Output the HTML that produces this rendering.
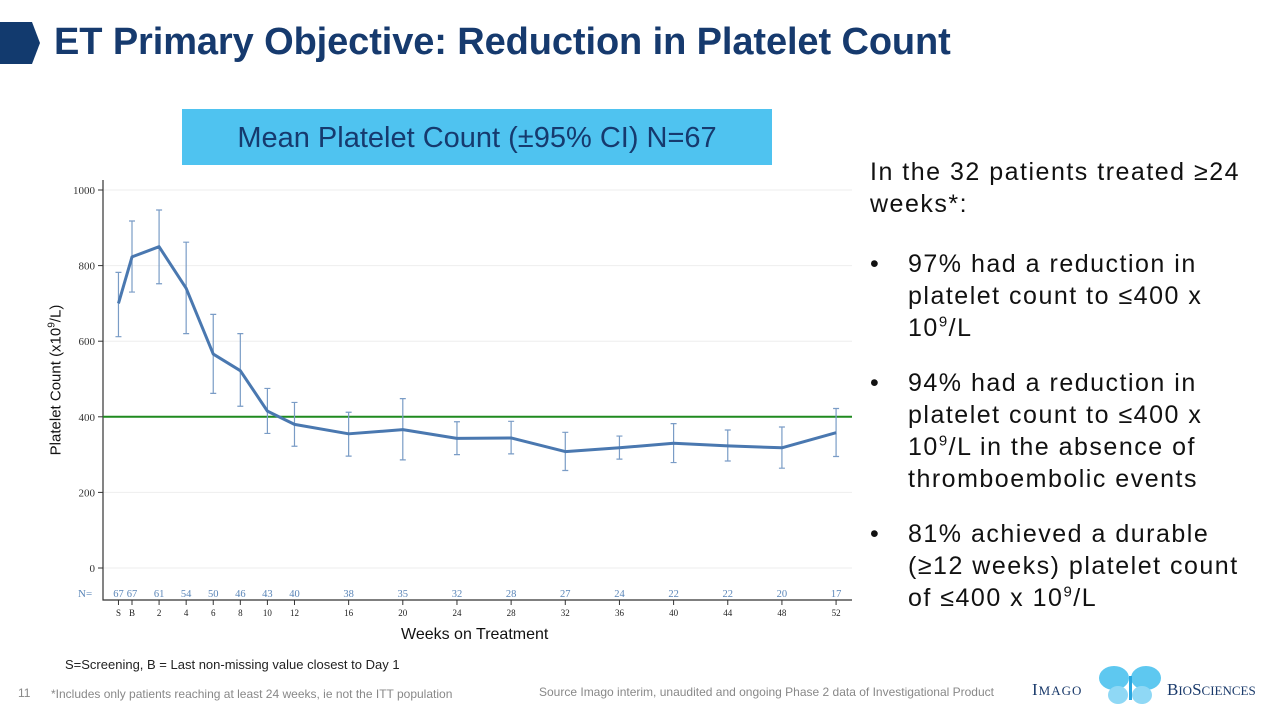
<!DOCTYPE html>
<html><head><meta charset="utf-8"><style>
body{margin:0;width:1280px;height:720px;background:#fff;overflow:hidden;position:relative;font-family:"Liberation Sans",sans-serif}
.t{position:absolute;white-space:nowrap}
.b{position:relative;padding-left:38px;margin-top:23px;white-space:nowrap}
.b span.d{position:absolute;left:0}
sup{line-height:0}
</style></head><body>
<svg style="position:absolute;left:0;top:0" width="45" height="70"><polygon points="0,22 32,22 40,43 32,64 0,64" fill="#123a6e"/></svg>
<div class="t" style="left:54px;top:21px;font-size:38px;font-weight:bold;color:#163a6e;letter-spacing:-0.1px">ET Primary Objective: Reduction in Platelet Count</div>
<div style="position:absolute;left:182px;top:109px;width:590px;height:56px;background:#4fc3f0;color:#163a6e;font-size:29px;text-align:center;line-height:58px">Mean Platelet Count (±95% CI) N=67</div>
<div style="position:absolute;left:870px;top:156px;width:410px;font-size:25px;line-height:32px;color:#111;letter-spacing:1.5px">
<div style="white-space:nowrap">In the 32 patients treated ≥24<br>weeks*:</div>
<div class="b" style="margin-top:28px"><span class="d">•</span>97% had a reduction in<br>platelet count to ≤400 x<br>10<sup style="font-size:15px">9</sup>/L</div>
<div class="b"><span class="d">•</span>94% had a reduction in<br>platelet count to ≤400 x<br>10<sup style="font-size:15px">9</sup>/L in the absence of<br>thromboembolic events</div>
<div class="b"><span class="d">•</span>81% achieved a durable<br>(≥12 weeks) platelet count<br>of ≤400 x 10<sup style="font-size:15px">9</sup>/L</div>
</div>
<svg id="chart" style="position:absolute;left:0;top:0" width="1280" height="720" font-family="Liberation Serif, serif"></svg>
<div class="t" style="left:56px;top:380px;font-size:15px;transform:translate(-50%,-50%) rotate(-90deg);transform-origin:center;color:#111">Platelet Count (x10<sup style="font-size:10px">9</sup>/L)</div>
<div class="t" style="left:401px;top:626px;font-size:16px;color:#111">Weeks on Treatment</div>
<div class="t" style="left:65px;top:657px;font-size:13px;color:#222">S=Screening, B = Last non-missing value closest to Day 1</div>
<div class="t" style="left:18px;top:686px;font-size:12px;color:#888">11</div>
<div class="t" style="left:51px;top:687px;font-size:12px;color:#888">*Includes only patients reaching at least 24 weeks, ie not the ITT population</div>
<div class="t" style="left:539px;top:685px;font-size:12px;color:#888">Source Imago interim, unaudited and ongoing Phase 2 data of Investigational Product</div>
<div style="position:absolute;left:1032px;top:664px;width:240px;height:40px">
<span class="t" style="left:0;top:16px;font-family:'Liberation Serif',serif;font-size:17px;color:#1a3a6b;letter-spacing:1px">I<span style="font-size:13px">MAGO</span></span>
<svg style="position:absolute;left:64px;top:0" width="72" height="42"><ellipse cx="18" cy="14" rx="15" ry="12" fill="#5ec8f0"/><ellipse cx="22" cy="31" rx="10" ry="9" fill="#8fd8f5"/><ellipse cx="50" cy="14" rx="15" ry="12" fill="#5ec8f0"/><ellipse cx="46" cy="31" rx="10" ry="9" fill="#8fd8f5"/><rect x="33" y="12" width="3" height="24" fill="#2aa7e0"/></svg>
<span class="t" style="left:135px;top:16px;font-family:'Liberation Serif',serif;font-size:17px;color:#1a3a6b">B<span style="font-size:13px">IO</span>S<span style="font-size:13px">CIENCES</span></span>
</div>
<script>
const weeks=[-1,0,2,4,6,8,10,12,16,20,24,28,32,36,40,44,48,52];
const tickLabels=["S","B","2","4","6","8","10","12","16","20","24","28","32","36","40","44","48","52"];
const nValues=[67,67,61,54,50,46,43,40,38,35,32,28,27,24,22,22,20,17];
const means=[700,823,850,740,566,522,415,380,355,366,343,344,308,318,330,323,318,358];
const lower=[612,730,752,620,462,428,356,322,296,286,300,302,258,288,279,283,264,295];
const upper=[782,918,947,862,671,620,475,438,412,448,387,388,359,349,382,365,373,422];
const yTicks=[0,200,400,600,800,1000];
const refLine=400;
const svg=document.getElementById('chart');const NS='http://www.w3.org/2000/svg';
const xs=w=>132+w*13.54, ys=v=>568-v*0.378;
function mk(tag,attrs,parent){const e=document.createElementNS(NS,tag);for(const k in attrs)e.setAttribute(k,attrs[k]);(parent||svg).appendChild(e);return e;}
yTicks.forEach(v=>{
 const g=mk('line',{x1:103,x2:852,y1:ys(v),y2:ys(v),stroke:'#eee','stroke-width':1});
 
 
 mk('line',{x1:98,x2:103,y1:ys(v),y2:ys(v),stroke:'#333'});
 const t=mk('text',{x:95,y:ys(v)+4,'text-anchor':'end','font-size':11,fill:'#333'});t.textContent=v;
 
 
});
const ax=mk('path',{d:'M103,180 V600 H852',stroke:'#333',fill:'none','stroke-width':1.2});


const rl=mk('line',{x1:103,x2:852,y1:ys(refLine),y2:ys(refLine),stroke:'#1f8a1f','stroke-width':2});


const nl=mk('text',{x:78,y:597,'font-size':11,fill:'#5b86b8'});nl.textContent='N=';


weeks.forEach((w,i)=>{
 const x=xs(w);
 mk('line',{x1:x,x2:x,y1:600,y2:605,stroke:'#333'});
 const t=mk('text',{x:x,y:616,'text-anchor':'middle','font-size':9,fill:'#222'});t.textContent=tickLabels[i];
 
 
 const n=mk('text',{x:x,y:597,'text-anchor':'middle','font-size':10.5,fill:'#5b86b8'});n.textContent=nValues[i];
 
 
 const e=mk('path',{d:`M${x},${ys(lower[i])}V${ys(upper[i])}M${x-3},${ys(lower[i])}H${x+3}M${x-3},${ys(upper[i])}H${x+3}`,stroke:'#7a9cc6','stroke-width':1.2,fill:'none'});
 
 
});
const ln=mk('polyline',{points:weeks.map((w,i)=>xs(w)+','+ys(means[i])).join(' '),stroke:'#4a78b0','stroke-width':3,fill:'none','stroke-linejoin':'round'});


</script>
</body></html>
